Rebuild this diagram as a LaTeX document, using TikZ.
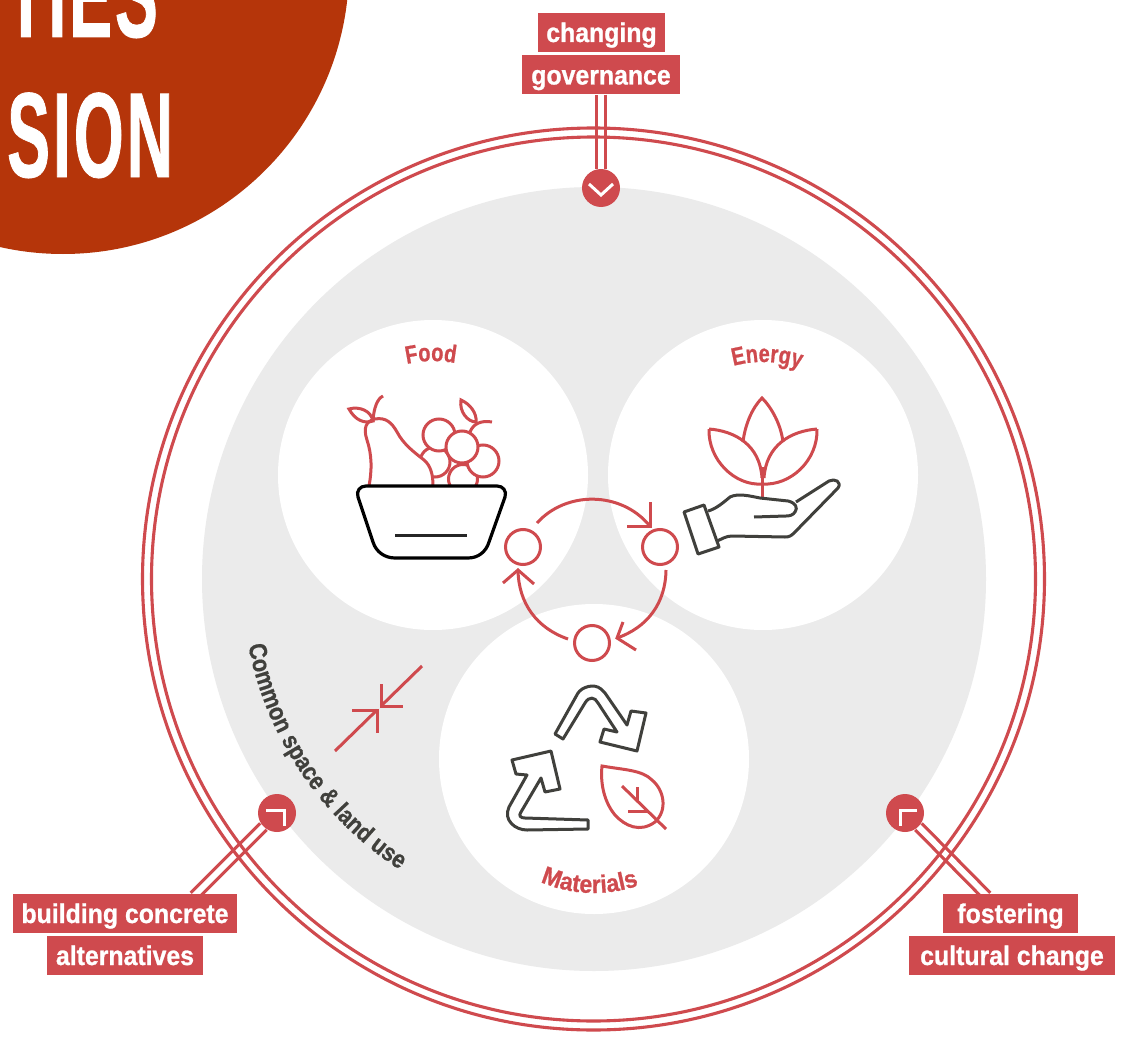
\documentclass[tikz,border=0pt]{standalone}
\usepackage{fontspec}
\usetikzlibrary{decorations.text,calc}
\setmainfont{Liberation Sans}
\newfontfamily\labfam[FakeStretch=0.92,FakeBold=0.9]{Liberation Sans}
\newfontfamily\curvefam[FakeStretch=0.8,FakeBold=0.7]{Liberation Sans}
\newfontfamily\matfam[FakeStretch=0.93,FakeBold=0.7]{Liberation Sans}
\newfontfamily\comfam[FakeStretch=0.87,FakeBold=0.7]{Liberation Sans}
\newfontfamily\titlefam[FakeStretch=0.53,FakeBold=0.6,LetterSpace=2.5]{Liberation Sans}
\newcommand{\curvefont}{\curvefam\bfseries\fontsize{25}{25}\selectfont}
\newcommand{\matfont}{\matfam\bfseries\fontsize{25}{25}\selectfont}
\newcommand{\comfont}{\comfam\bfseries\fontsize{25}{25}\selectfont}
\definecolor{cred}{HTML}{CF4A4E}
\definecolor{cbrown}{HTML}{B5350A}
\definecolor{cgrey}{HTML}{EBEBEB}
\definecolor{cdark}{HTML}{40403C}
\tikzset{
  lab/.style={fill=cred,text=white,inner sep=0pt,minimum height=39pt,text height=29pt,text depth=10pt,font=\labfam\bfseries\fontsize{27}{27}\selectfont,anchor=center},
  hub/.style={circle,fill=cred,minimum size=38pt,inner sep=0pt},
  small/.style={circle,draw=cred,line width=3pt,minimum size=35pt,inner sep=0pt},
  dbl/.style={draw=cred,double=white,line width=3.2pt,double distance=5.8pt},
  ring/.style={draw=cred,line width=3.1pt},
  chev/.style={draw=white,line width=3pt},
  rl/.style={draw=cred,line width=3pt},
  hand/.style={draw=cdark,line width=3pt,line join=round},
  titletext/.style={text=white,inner sep=0pt,font=\titlefam\bfseries\fontsize{121}{121}\selectfont},
  grapes/.style={rl,fill=white},
}
\begin{document}
\begin{tikzpicture}[x=1pt,y=-1pt]
\useasboundingbox (0,0) rectangle (1127,1038);
\fill[white] (0,0) rectangle (1127,1038);
% banner
\fill[cbrown] (63,-32) circle[radius=286];
\node[titletext,anchor=base west] (t1) at (6,37) {TIES};
\node[titletext,anchor=base west] (t2) at (7,177) {SION};
% spaces
\fill[cgrey] (594,579) circle[radius=392];
\fill[white] (433,475) circle[radius=155];
\fill[white] (763,475) circle[radius=155];
\fill[white] (594,759) circle[radius=155];
% curved labels
\path[decorate,decoration={text along path,text align=center,text={|\curvefont\color{cred}|Food}}]
  (433,475) ++(-121:114) arc[start angle=-121,end angle=-61,radius=114];
\path[decorate,decoration={text along path,text align=center,text={|\curvefont\color{cred}|Energy}}]
  (763,475) ++(-118:113) arc[start angle=-118,end angle=-58,radius=113];
\path[decorate,decoration={text along path,text align=center,text={|\matfont\color{cred}|Materials}}]
  (594,759) ++(122:134) arc[start angle=122,end angle=62,radius=134];
\path[decorate,decoration={text along path,text align=center,text={|\comfont\color{cdark}|Common space {\&} land use}}]
  (587,580) ++(176:345) arc[start angle=176,end angle=116,radius=345];
% food icon
\draw[grapes] (435,462) circle[radius=15];
\draw[rl,fill=white] (369,486) .. controls (372,470) and (372,455) .. (367,440) .. controls (363,428) and (366,421) .. (375,419) .. controls (386,417) and (392,423) .. (397,432) .. controls (404,445) and (414,452) .. (424,460) .. controls (431,466) and (433,475) .. (433,486);
\draw[rl] (373,420) .. controls (374,408) and (377,399) .. (383,396);
\draw[rl] (349,409) .. controls (360,406) and (371,411) .. (373,421) .. controls (364,424) and (355,420) .. (349,409) -- cycle;
\draw[grapes] (463,479) circle[radius=14.5];
\draw[grapes] (439,435) circle[radius=16];
\draw[grapes] (483,461) circle[radius=16];
\draw[grapes] (462,447) circle[radius=16];
\draw[rl] (470,432) .. controls (473,424) and (481,420) .. (492,422);
\draw[rl] (461,400) .. controls (470,404) and (477,413) .. (476,422) .. controls (468,422) and (459,412) .. (461,400) -- cycle;
\draw[draw=black,fill=white,line width=3.2pt,line join=round] (366,486) -- (497,486) .. controls (503,486) and (507,491) .. (505,497) -- (489,542) .. controls (486,552) and (478,558) .. (468,558) -- (395,558) .. controls (385,558) and (376,552) .. (373,542) -- (358,497) .. controls (356,491) and (360,486) .. (366,486) -- cycle;
\draw[draw=black!85,line width=3pt] (395,535) -- (467,535);
% energy icon
\draw[rl] (762,467) -- (762,497);
\draw[rl,line join=miter] (743,442) .. controls (745,425) and (752,408) .. (762,398) .. controls (772,408) and (781,425) .. (783,442);
\draw[rl] (709,429) .. controls (735,431) and (760,445) .. (762,478);
\draw[rl] (709,429) .. controls (708,460) and (735,486) .. (762,484);
\draw[rl] (817,429) .. controls (791,431) and (766,445) .. (764,478);
\draw[rl] (817,429) .. controls (818,460) and (791,486) .. (762,484);
\draw[hand] (684,512) -- (704,505) -- (719,547) -- (698,554) -- cycle;
\draw[hand] (708,511) .. controls (716,509) and (724,502) .. (730,497) .. controls (738,493) and (750,496) .. (760,498) -- (788,501) .. controls (796,503) and (798,508) .. (795,512) .. controls (793,515) and (790,516) .. (786,516) -- (754,517);
\draw[hand] (796,502) -- (829,481) .. controls (835,478) and (842,482) .. (838,488) -- (794,533) .. controls (791,536) and (789,537) .. (785,537) -- (732,536) .. controls (726,536) and (722,539) .. (717,541);
% materials icon
\draw[hand] (555,734) -- (578,693) .. controls (582,687) and (594,683) .. (601,689) -- (605,693) -- (627,725) -- (631,711) -- (646,713) -- (637,751) -- (600,742) -- (604,729) -- (617,732) -- (598,703) .. controls (595,697) and (589,696) .. (585,703) -- (563,739) -- cycle;
\draw[hand] (588,829) -- (527,830) .. controls (515,830) and (503,820) .. (509,807) -- (527,775) -- (516,774) -- (512,760) -- (551,751) -- (560,789) -- (545,792) -- (541,778) -- (521,812) .. controls (518,816) and (521,818) .. (525,818) -- (588,820) -- cycle;
\draw[rl,line join=miter] (602,766) .. controls (625,770) and (642,770) .. (652,780) .. controls (664,790) and (668,810) .. (655,822) .. controls (640,833) and (625,826) .. (615,815) .. controls (605,803) and (600,785) .. (602,766) -- cycle;
\draw[rl] (622,786) -- (666,829);
\draw[rl] (637,787) -- (637,801);
\draw[rl] (628,811) -- (647,811);
% cycle
\node[small] (c1) at (523,547) {};
\node[small] (c2) at (660,547) {};
\node[small] (c3) at (592,643) {};
\coordinate (a1s) at (537,523); \coordinate (a1e) at (649,525);
\coordinate (a2s) at (666,570); \coordinate (a2e) at (617,638);
\coordinate (a3s) at (568,639); \coordinate (a3e) at (518,570);
\draw[rl] (a1s) to[bend left=49] (a1e);
\draw[rl] (a2s) to[bend left=35] (a2e);
\draw[rl] (a3s) to[bend left=35] (a3e);
\draw[rl,line join=miter] ($(a1e)+(1,-23)$) -- ($(a1e)+(1,1)$) -- ($(a1e)+(-22,1)$);
\draw[rl,line join=miter] ($(a2e)+(6,-16)$) -- (a2e) -- ($(a2e)+(19,12)$);
\draw[rl,line join=miter] ($(a3e)+(-15,13)$) -- (a3e) -- ($(a3e)+(16,14)$);
% converging arrows
\coordinate (p1s) at (335,751); \coordinate (p1e) at (377,710);
\coordinate (p2s) at (422,666); \coordinate (p2e) at (381,706);
\draw[rl] (p1s) -- (p1e);
\draw[rl] (p2s) -- (p2e);
\draw[rl,line join=miter] ($(p1e)+(-25,0)$) -- (p1e) -- ($(p1e)+(0,23)$);
\draw[rl,line join=miter] ($(p2e)+(0,-22)$) -- (p2e) -- ($(p2e)+(22,0)$);
% labels and hubs
\node[lab,minimum width=127pt] (l1a) at (601.5,32.5) {changing};
\node[lab,minimum width=158pt] (l1b) at (601,75) {governance};
\node[hub] (h1) at (601,188) {};
\node[hub] (h2) at (277,813) {};
\node[hub] (h3) at (905,813) {};
\coordinate (j2) at (194,896);
\coordinate (j3) at (987,896);
\draw[dbl] (l1b.south) -- (h1);
\draw[dbl] (j2) -- (h2);
\draw[dbl] (j3) -- (h3);
\node[lab,minimum width=224pt] (l2a) at (125,913.5) {building concrete};
\node[lab,minimum width=156pt] (l2b) at (125,955.5) {alternatives};
\node[lab,minimum width=135pt] (l3a) at (1010.5,913.5) {fostering};
\node[lab,minimum width=206pt] (l3b) at (1012,955.5) {cultural change};
\draw[ring] (593.5,579) circle[radius=451];
\draw[ring] (593.5,579) circle[radius=442];
\draw[chev] ($(h1)+(-12,-4)$) -- ($(h1)+(0,7)$) -- ($(h1)+(12,-4)$);
\draw[chev,line join=miter] ($(h2)+(-11,-3)$) -- ($(h2)+(7,-3)$) -- ($(h2)+(7,13)$);
\draw[chev,line join=miter] ($(h3)+(12,-3)$) -- ($(h3)+(-5,-3)$) -- ($(h3)+(-5,13)$);
\end{tikzpicture}
\end{document}
